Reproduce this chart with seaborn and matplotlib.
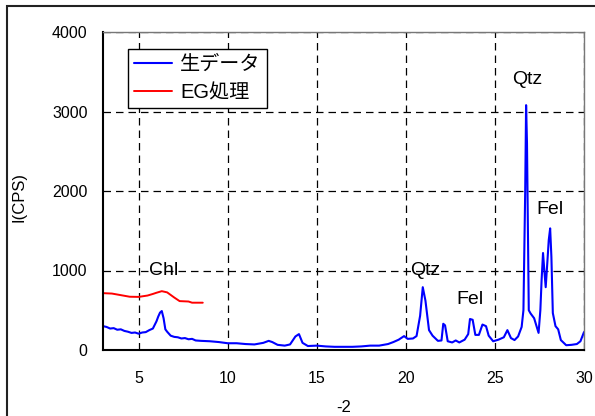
import matplotlib
matplotlib.use("Agg")
import matplotlib.pyplot as plt
from matplotlib.patches import Rectangle
import seaborn as sns
import pandas as pd

# ---- data ----
raw_x = [3.0, 3.2, 3.4, 3.6, 3.8, 4.0, 4.2, 4.4, 4.6, 4.8, 5.0, 5.2, 5.4, 5.6, 5.8,
         6.0, 6.1, 6.2, 6.3, 6.4, 6.5, 6.6, 6.8, 7.0, 7.2, 7.4, 7.6, 7.8, 8.0, 8.2,
         8.5, 9.0, 9.5, 10.0, 10.5, 11.0, 11.5, 12.0, 12.3, 12.5, 12.8, 13.2, 13.5,
         13.8, 14.0, 14.2, 14.5, 15.0, 15.5, 16.0, 16.5, 17.0, 17.5, 18.0, 18.5,
         19.0, 19.3, 19.6, 19.9, 20.1, 20.4, 20.6, 20.8, 20.95, 21.1, 21.3, 21.5,
         21.8, 22.0, 22.1, 22.2, 22.35, 22.6, 22.8, 23.0, 23.3, 23.5, 23.6, 23.75,
         23.9, 24.1, 24.3, 24.5, 24.65, 24.9, 25.2, 25.5, 25.7, 25.9, 26.1, 26.3,
         26.5, 26.6, 26.7, 26.75, 26.8, 26.9, 27.0, 27.2, 27.45, 27.55, 27.62, 27.7,
         27.78, 27.85, 27.95, 28.02, 28.1, 28.17, 28.25, 28.4, 28.55, 28.7, 29.0,
         29.3, 29.6, 29.8, 30.0]
raw_y = [300, 290, 270, 275, 255, 260, 240, 230, 215, 220, 205, 220, 225, 250, 270,
         360, 420, 470, 490, 400, 260, 230, 180, 165, 160, 145, 150, 135, 140, 120,
         115, 110, 100, 85, 85, 75, 70, 90, 115, 100, 65, 55, 70,
         170, 200, 90, 50, 55, 45, 40, 40, 40, 45, 55, 55,
         75, 100, 130, 175, 140, 145, 175, 430, 790, 620, 250, 180,
         115, 120, 330, 310, 110, 95, 120, 95, 130, 200, 390, 380,
         190, 190, 320, 300, 180, 110, 130, 160, 250, 150, 125, 170,
         290, 500, 2010, 3080, 2600, 500, 460, 400, 215, 500, 880, 1220,
         980, 790, 1130, 1380, 1530, 1170, 465, 300, 260, 125, 60,
         65, 75, 110, 225]

eg_x = [3.0, 3.5, 4.0, 4.5, 5.0, 5.5, 5.8, 6.0, 6.3, 6.6, 7.0, 7.3, 7.8, 8.0, 8.6]
eg_y = [715, 710, 690, 670, 668, 685, 705, 720, 740, 725, 660, 615, 610, 595, 595]

labels = ["生データ", "EG処理"]
annot_text = ["Chl", "Qtz", "Fel", "Qtz", "Fel"]
annot_x = [6.42, 21.1, 23.6, 26.8, 28.1]
annot_y = [1000, 1000, 640, 3400, 1770]

x_ticks = [5, 10, 15, 20, 25, 30]
y_ticks = [0, 1000, 2000, 3000, 4000]

df_raw = pd.DataFrame({"x": raw_x, "y": raw_y})
df_eg = pd.DataFrame({"x": eg_x, "y": eg_y})

sns.set_style("white")
plt.rcParams["font.family"] = ["Liberation Sans", "Noto Sans CJK JP", "DejaVu Sans"]
plt.rcParams["text.color"] = "black"
plt.rcParams["axes.labelcolor"] = "black"

fig = plt.figure(figsize=(5.95, 4.16), dpi=100)
ax = fig.add_axes([103/595, 1-350/416, (584-103)/595, (350-32)/416])

sns.lineplot(data=df_raw, x="x", y="y", ax=ax, color="#0000ff", lw=1.5,
             label=labels[0], estimator=None)
sns.lineplot(data=df_eg, x="x", y="y", ax=ax, color="#ff0000", lw=1.4,
             label=labels[1], estimator=None)

ax.set_xlim(3, 30)
ax.set_ylim(0, 4000)
ax.set_xticks(x_ticks)
ax.set_yticks(y_ticks)
ax.tick_params(axis="both", length=0, labelsize=11.5, colors="black")
ax.tick_params(axis="x", pad=15)
ax.tick_params(axis="y", pad=11)

ax.grid(True, color="black", linestyle=(0, (6, 4)), linewidth=0.9)
ax.set_axisbelow(True)
for s in ["left", "bottom"]:
    ax.spines[s].set_color("black")
    ax.spines[s].set_linewidth(1.5)
for s in ["top", "right"]:
    ax.spines[s].set_color("#777777")
    ax.spines[s].set_linewidth(1.0)

ax.set_xlabel("-2", fontsize=12, labelpad=10, color="black")
ax.set_ylabel("I(CPS)", fontsize=12, color="black")
ax.yaxis.set_label_coords((27 - 103) / 481, (350 - 197) / 318)

for t, xx, yy in zip(annot_text, annot_x, annot_y):
    ax.text(xx, yy, t, fontsize=14, ha="center", va="center", color="black")

leg = ax.legend(loc="upper left", bbox_to_anchor=((128-103)/481, (350-49)/318),
                borderaxespad=0, fontsize=14.5, frameon=True, fancybox=False,
                edgecolor="black", framealpha=1, handlelength=1.9,
                handletextpad=0.4, labelspacing=0.45, borderpad=0.3)
leg.get_frame().set_linewidth(1.0)
for txt in leg.get_texts():
    txt.set_color("black")

fig.patches.append(Rectangle((7/595, -0.05), 1.05, 1.05 - 6/416,
                             transform=fig.transFigure, fill=False,
                             edgecolor="#222222", linewidth=1.5, zorder=10))

fig.savefig("out.png", dpi=100)
